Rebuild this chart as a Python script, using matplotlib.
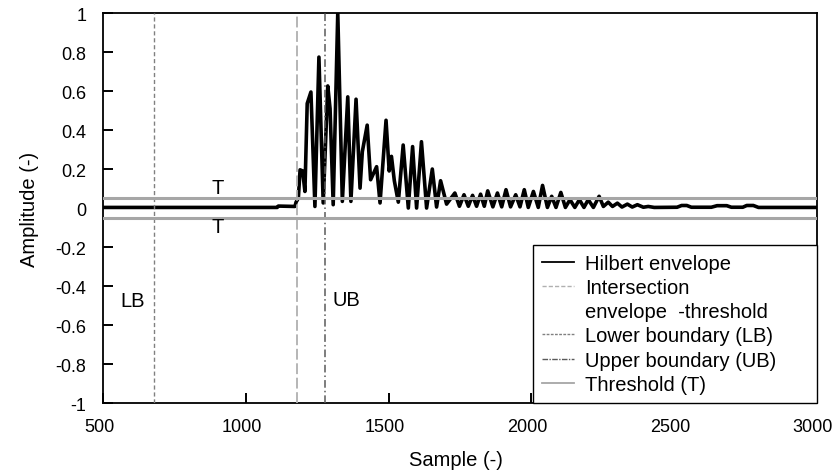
import matplotlib
matplotlib.use("Agg")
import matplotlib.pyplot as plt
import matplotlib.transforms as mtransforms
from matplotlib.lines import Line2D

plt.rcParams["font.family"] = ["Liberation Sans", "DejaVu Sans"]
plt.rcParams["axes.unicode_minus"] = False

# ---- data ----
# Hilbert envelope: sample index and amplitude (peaks / troughs)
env_x = [500, 1110, 1114, 1172, 1176, 1184, 1190, 1199, 1207, 1215, 1228,
         1242, 1256, 1271, 1287, 1295, 1306, 1322, 1338, 1357, 1368, 1386,
         1400, 1408, 1425, 1437, 1458, 1470, 1491, 1502, 1510, 1520, 1534,
         1551, 1569, 1584, 1598, 1615, 1633, 1653, 1668, 1682, 1703, 1732,
         1748, 1764, 1779, 1794, 1808, 1822, 1835, 1847, 1865, 1881, 1896,
         1911, 1927, 1945, 1960, 1975, 1989, 2007, 2024, 2039, 2056, 2071,
         2086, 2103, 2119, 2135, 2152, 2168, 2184, 2199, 2217, 2237, 2252,
         2269, 2284, 2301, 2317, 2336, 2353, 2371, 2392, 2409, 2430, 2510,
         2526, 2544, 2560, 2630, 2650, 2684, 2700, 2740, 2754, 2777, 2795,
         3000]
env_y = [0.003, 0.003, 0.010, 0.008, 0.030, 0.051, 0.196, 0.190, 0.085,
         0.536, 0.595, 0.008, 0.774, 0.026, 0.626, 0.510, 0.017, 1.000,
         0.034, 0.570, 0.034, 0.558, 0.102, 0.289, 0.425, 0.145, 0.212,
         0.026, 0.450, 0.190, 0.265, 0.140, 0.030, 0.323, 0.000, 0.315,
         0.000, 0.340, 0.000, 0.200, 0.005, 0.140, 0.020, 0.077, 0.009,
         0.068, 0.009, 0.065, 0.009, 0.071, 0.009, 0.088, 0.006, 0.077,
         0.006, 0.094, 0.006, 0.068, 0.006, 0.094, 0.003, 0.085, 0.003,
         0.116, 0.003, 0.060, 0.003, 0.080, 0.003, 0.043, 0.003, 0.043,
         0.003, 0.043, 0.003, 0.060, 0.008, 0.030, 0.008, 0.025, 0.005,
         0.020, 0.005, 0.017, 0.004, 0.008, 0.003, 0.004, 0.013, 0.013,
         0.004, 0.004, 0.012, 0.012, 0.004, 0.004, 0.013, 0.013, 0.003,
         0.003]

threshold = 0.05
x_intersect = 1178
x_lb = 678
x_ub = 1278

x_ticks = [500, 1000, 1500, 2000, 2500, 3000]
y_ticks = [-1, -0.8, -0.6, -0.4, -0.2, 0, 0.2, 0.4, 0.6, 0.8, 1]
y_labels = ["-1", "-0.8", "-0.6", "-0.4", "-0.2", "0", "0.2", "0.4", "0.6", "0.8", "1"]

FS = 14.5      # labels, legend, annotations
FS_TICK = 13
C_T = "#a6a6a6"
C_INT = "#b0b0b0"
C_LB = "#808080"
C_UB = "#5a5a5a"

fig = plt.figure(figsize=(8.36, 4.77), dpi=100)
ax = fig.add_axes([0.1232, 0.1530, 0.8541, 0.8176])

ax.plot(env_x, env_y, color="black", lw=2.6, solid_joinstyle="round", zorder=2)
ax.axvline(x_intersect, color=C_INT, lw=1.3, linestyle=(0, (6, 2)), zorder=3)
ax.axvline(x_lb, color=C_LB, lw=1.0, linestyle=(0, (3, 2)), zorder=3)
ax.axvline(x_ub, color=C_UB, lw=1.1, linestyle=(0, (5, 2, 1, 2)), zorder=3)
ax.axhline(threshold, color=C_T, lw=2.2, zorder=4)
ax.axhline(-threshold, color=C_T, lw=2.2, zorder=4)

ax.text(900, 0.107, "T", fontsize=FS, ha="center", va="center", zorder=5)
ax.text(900, -0.095, "T", fontsize=FS, ha="center", va="center", zorder=5)
ax.text(604, -0.472, "LB", fontsize=FS, ha="center", va="center")
ax.text(1353, -0.47, "UB", fontsize=FS, ha="center", va="center")

ax.set_xlim(500, 3000)
ax.set_ylim(-1, 1)
ax.set_xticks(x_ticks)
ax.set_yticks(y_ticks)
ax.set_yticklabels(y_labels)
ax.tick_params(direction="in", length=7, width=1.4, color="black",
               labelsize=FS_TICK, top=False, right=False)
ax.tick_params(axis="x", pad=11)
ax.tick_params(axis="y", pad=12)
for s in ax.spines.values():
    s.set_linewidth(1.3)

# x tick labels sit a few pixels left of their ticks in the original
shift = mtransforms.ScaledTranslation(-0.04, 0, fig.dpi_scale_trans)
for lbl in ax.get_xticklabels():
    lbl.set_transform(lbl.get_transform() + shift)

ax.set_xlabel("Sample (-)", fontsize=FS)
ax.set_ylabel("Amplitude (-)", fontsize=FS)
ax.xaxis.set_label_coords(0.494, -0.12)
ax.yaxis.set_label_coords(-0.09, 0.5)

handles = [
    Line2D([], [], color="black", lw=1.3),
    Line2D([], [], color=C_INT, lw=1.0, linestyle=(0, (3, 1.5))),
    Line2D([], [], color="none"),
    Line2D([], [], color=C_LB, lw=1.0, linestyle=(0, (2, 1))),
    Line2D([], [], color=C_UB, lw=1.0, linestyle=(0, (4, 1, 1, 1))),
    Line2D([], [], color=C_T, lw=1.3),
]
labels = ["Hilbert envelope", "Intersection", "envelope  -threshold",
          "Lower boundary (LB)", "Upper boundary (UB)", "Threshold (T)"]
leg = ax.legend(handles, labels, loc="lower left", mode="expand",
                bbox_to_anchor=(0.602, 0, 0.398, 0.4),
                borderaxespad=0, fontsize=FS, handlelength=1.6,
                handletextpad=0.55, labelspacing=0.26, borderpad=0.45,
                fancybox=False, framealpha=1, edgecolor="black")
leg.get_frame().set_linewidth(1.0)

fig.savefig("out.png", dpi=100)
